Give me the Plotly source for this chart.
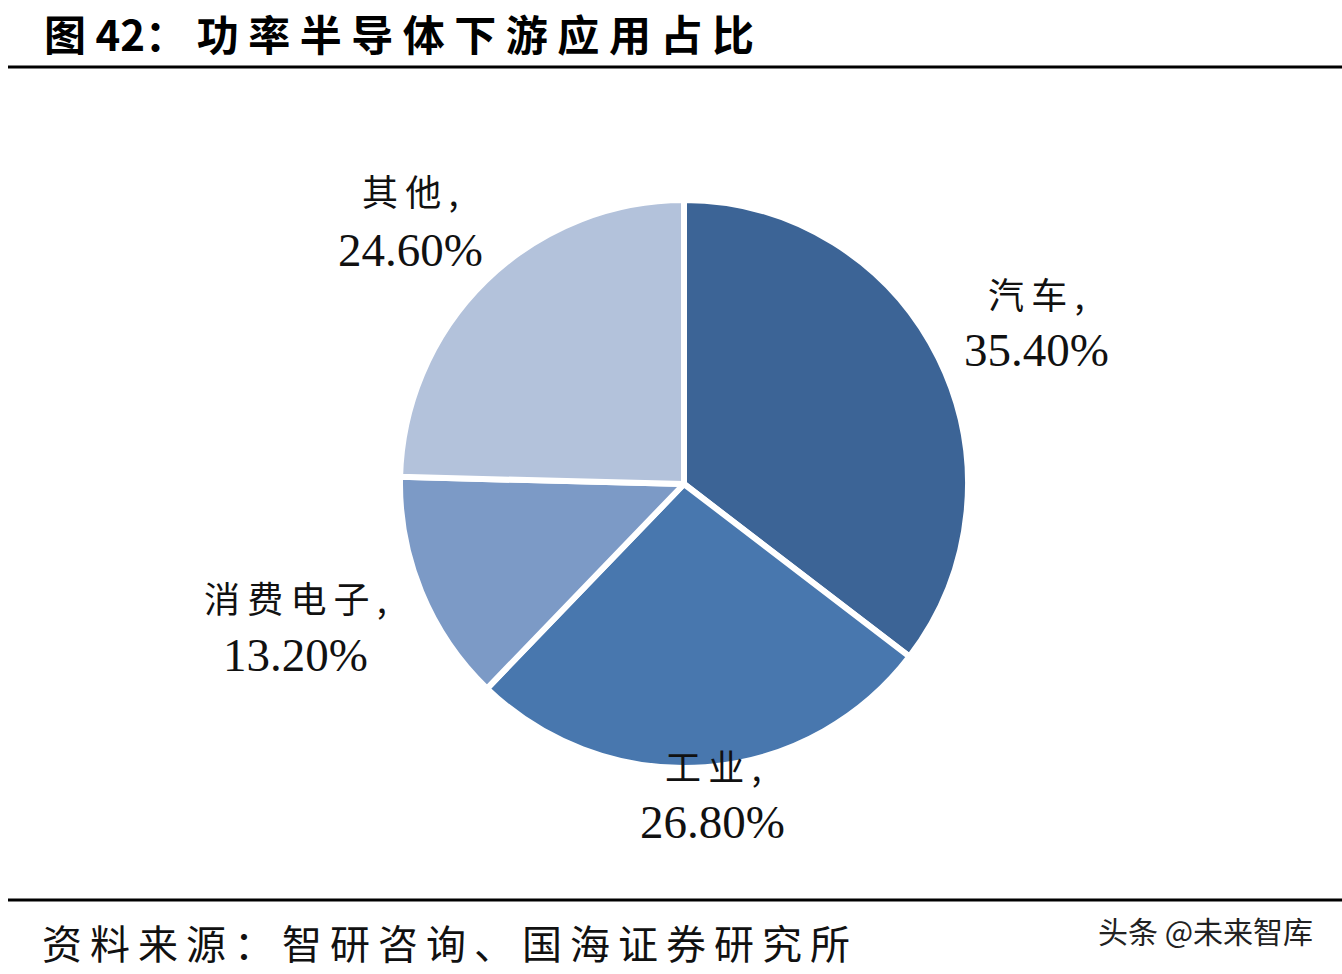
import plotly.graph_objects as go

# 功率半导体下游应用占比
categories = ["汽车", "工业", "消费电子", "其他"]
shares = [35.40, 26.80, 13.20, 24.60]
colors = ["#3C6496", "#4877AE", "#7C9AC6", "#B3C2DB"]

title_text = "图 42：功率半导体下游应用占比"
source_text = "资料来源：智研咨询、国海证券研究所"
watermark = "头条 @未来智库"

W, H = 1342, 974
cx, cy, r = 684, 484, 284

serif = "Liberation Serif, Noto Sans CJK SC"
cjk = "Noto Sans CJK SC"
THIN = "\u2009"


def spaced(s, gap=THIN):
    # extra space between wide characters only, to mimic the wide letter pitch
    out = s[0]
    for a, b in zip(s, s[1:]):
        if ord(a) > 127 and ord(b) > 127:
            out += gap
        out += b
    return out


def px(x, y):
    # reference pixel -> paper coords
    return x / W, 1 - y / H


fig = go.Figure(go.Pie(
    labels=categories,
    values=shares,
    sort=False,
    direction="clockwise",
    rotation=0,
    textinfo="none",
    hoverinfo="label+percent",
    marker=dict(colors=colors, line=dict(color="white", width=6)),
    domain=dict(x=[(cx - r) / W, (cx + r) / W],
                y=[(H - cy - r) / H, (H - cy + r) / H]),
    showlegend=False,
))

# label positions in reference pixels (x, name line y, value line y)
label_pos = {
    "汽车": (1036, 293, 350),
    "工业": (713, 765, 822),
    "消费电子": (295, 597, 655),
    "其他": (410, 190, 250),
}

annotations = []
for name, val in zip(categories, shares):
    lx, y1, y2 = label_pos[name]
    x, y = px(lx, y1)
    annotations.append(dict(
        text=spaced(name) + THIN + ",", x=x, y=y, xref="paper", yref="paper",
        showarrow=False, xanchor="center", yanchor="middle",
        font=dict(family=cjk, size=36, color="#111111")))
    x, y = px(lx, y2)
    annotations.append(dict(
        text=f"{val:.2f}%", x=x, y=y, xref="paper", yref="paper",
        showarrow=False, xanchor="center", yanchor="middle",
        font=dict(family=serif, size=47, color="#111111")))

x, _ = px(42, 0)
annotations.append(dict(
    text="<b>" + spaced(title_text, " ") + "</b>", x=x, y=1, xref="paper", yref="paper",
    showarrow=False, xanchor="left", yanchor="top",
    font=dict(family=cjk, size=42, color="black")))
x, y = px(40, 942)
annotations.append(dict(
    text=spaced(source_text), x=x, y=y, xref="paper", yref="paper",
    showarrow=False, xanchor="left", yanchor="middle",
    font=dict(family=cjk, size=40, color="#111111")))
x, y = px(1315, 930)
annotations.append(dict(
    text=watermark, x=x, y=y, xref="paper", yref="paper",
    showarrow=False, xanchor="right", yanchor="middle",
    font=dict(family=cjk, size=30, color="#222222")))

shapes = []
for ly in (67, 900):
    _, y = px(0, ly)
    shapes.append(dict(type="line", xref="paper", yref="paper", x0=8 / W, x1=1,
                       y0=y, y1=y, line=dict(color="black", width=3)))

fig.update_layout(
    width=W, height=H,
    margin=dict(l=0, r=0, t=0, b=0),
    paper_bgcolor="white",
    plot_bgcolor="white",
    annotations=annotations,
    shapes=shapes,
)

# drop the browser's default body margin so the figure fills the window
fig.write_html("out.html", config={"displayModeBar": False},
               post_script="document.body.style.margin='0';")
